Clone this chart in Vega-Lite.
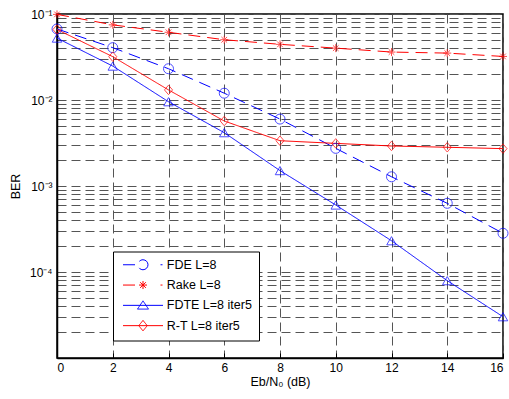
{
  "$schema": "https://vega.github.io/schema/vega-lite/v6.json",
  "width": 446,
  "height": 344,
  "autosize": {"type": "none"},
  "padding": {"left": 57, "top": 14, "right": 6, "bottom": 41},
  "background": "white",
  "config": {
    "font": "Liberation Sans",
    "view": {"stroke": "black", "strokeWidth": 1.5},
    "axis": {
      "domainColor": "black",
      "domainWidth": 1.5,
      "grid": true,
      "gridColor": "#555555",
      "gridDash": [9, 5],
      "gridWidth": 1,
      "labelFont": "Liberation Sans",
      "labelFontSize": 12,
      "labelColor": "black",
      "titleFont": "Liberation Sans",
      "titleFontSize": 12.5,
      "titleFontWeight": "normal",
      "titleColor": "black",
      "tickColor": "black"
    }
  },
  "data": {
    "values": [
      {"series": "FDE L=8", "x": 0, "ber": 0.067},
      {"series": "FDE L=8", "x": 2, "ber": 0.0406},
      {"series": "FDE L=8", "x": 4, "ber": 0.0231},
      {"series": "FDE L=8", "x": 6, "ber": 0.0120},
      {"series": "FDE L=8", "x": 8, "ber": 0.0060},
      {"series": "FDE L=8", "x": 10, "ber": 0.00274},
      {"series": "FDE L=8", "x": 12, "ber": 0.00128},
      {"series": "FDE L=8", "x": 14, "ber": 0.000629},
      {"series": "FDE L=8", "x": 16, "ber": 0.000282},
      {"series": "Rake L=8", "x": 0, "ber": 0.099},
      {"series": "Rake L=8", "x": 2, "ber": 0.0748},
      {"series": "Rake L=8", "x": 4, "ber": 0.0613},
      {"series": "Rake L=8", "x": 6, "ber": 0.0502},
      {"series": "Rake L=8", "x": 8, "ber": 0.0444},
      {"series": "Rake L=8", "x": 10, "ber": 0.0401},
      {"series": "Rake L=8", "x": 12, "ber": 0.0361},
      {"series": "Rake L=8", "x": 14, "ber": 0.0351},
      {"series": "Rake L=8", "x": 16, "ber": 0.0321},
      {"series": "FDTE L=8 iter5", "x": 0, "ber": 0.0525},
      {"series": "FDTE L=8 iter5", "x": 2, "ber": 0.0248},
      {"series": "FDTE L=8 iter5", "x": 4, "ber": 0.00955},
      {"series": "FDTE L=8 iter5", "x": 6, "ber": 0.00417},
      {"series": "FDTE L=8 iter5", "x": 8, "ber": 0.00151},
      {"series": "FDTE L=8 iter5", "x": 10, "ber": 0.000601},
      {"series": "FDTE L=8 iter5", "x": 12, "ber": 0.000231},
      {"series": "FDTE L=8 iter5", "x": 14, "ber": 0.0000793},
      {"series": "FDTE L=8 iter5", "x": 16, "ber": 0.0000302},
      {"series": "R-T L=8 iter5", "x": 0, "ber": 0.066},
      {"series": "R-T L=8 iter5", "x": 2, "ber": 0.0319},
      {"series": "R-T L=8 iter5", "x": 4, "ber": 0.0131},
      {"series": "R-T L=8 iter5", "x": 6, "ber": 0.0057},
      {"series": "R-T L=8 iter5", "x": 8, "ber": 0.00336},
      {"series": "R-T L=8 iter5", "x": 10, "ber": 0.00313},
      {"series": "R-T L=8 iter5", "x": 12, "ber": 0.00292},
      {"series": "R-T L=8 iter5", "x": 14, "ber": 0.00282},
      {"series": "R-T L=8 iter5", "x": 16, "ber": 0.00272}
    ]
  },
  "encoding": {
    "x": {
      "field": "x",
      "type": "quantitative",
      "scale": {"domain": [0, 16], "nice": false, "zero": false},
      "axis": {
        "values": [0, 2, 4, 6, 8, 10, 12, 14, 16],
        "title": "Eb/N₀ (dB)",
        "tickSize": -5,
        "labelPadding": 9,
        "titleBaseline": "alphabetic",
        "titleY": 27
      }
    },
    "y": {
      "field": "ber",
      "type": "quantitative",
      "scale": {"type": "log", "domain": [0.00001, 0.1], "nice": false},
      "axis": {
        "values": [0.00001, 0.00002, 0.00003, 0.00004, 0.00005, 0.00006, 0.00007, 0.00008, 0.00009,
                   0.0001, 0.0002, 0.0003, 0.0004, 0.0005, 0.0006, 0.0007, 0.0008, 0.0009,
                   0.001, 0.002, 0.003, 0.004, 0.005, 0.006, 0.007, 0.008, 0.009,
                   0.01, 0.02, 0.03, 0.04, 0.05, 0.06, 0.07, 0.08, 0.09, 0.1],
        "labelExpr": "datum.value == 0.1 ? '10⁻¹' : datum.value == 0.01 ? '10⁻²' : datum.value == 0.001 ? '10⁻³' : datum.value == 0.0001 ? '10⁻⁴' : ''",
        "labelOverlap": false,
        "labelBound": false,
        "ticks": false,
        "labelPadding": 5,
        "title": "BER",
        "titleBaseline": "alphabetic",
        "titleX": -38
      }
    }
  },
  "layer": [
    {
      "mark": {"type": "line", "strokeWidth": 1},
      "encoding": {
        "color": {
          "field": "series",
          "type": "nominal",
          "scale": {
            "domain": ["FDE L=8", "Rake L=8", "FDTE L=8 iter5", "R-T L=8 iter5"],
            "range": ["#0000ff", "#ff0000", "#0000ff", "#ff0000"]
          },
          "legend": {
            "orient": "none",
            "legendX": 56,
            "legendY": 237.5,
            "title": null,
            "strokeColor": "black",
            "fillColor": "white",
            "padding": 7,
            "labelFont": "Liberation Sans",
            "labelFontSize": 12.5,
            "labelColor": "black",
            "symbolSize": 100,
            "symbolStrokeWidth": 1,
            "symbolFillColor": "transparent",
            "symbolOffset": 16.75,
            "labelOffset": 17.5,
            "rowPadding": 6.3,
            "symbolType": {"expr": "datum.value === 'FDE L=8' ? 'M-4,0L-1,0M1,0C1,0.552 0.552,1 0,1C-0.552,1 -1,0.552 -1,0C-1,-0.552 -0.552,-1 0,-1C0.552,-1 1,-0.552 1,0ZM3.5,0L3.9,0' : datum.value === 'Rake L=8' ? 'M-4,0L-0.8,0M-0.8,0L0.8,0M0,-0.8L0,0.8M-0.57,-0.57L0.57,0.57M-0.57,0.57L0.57,-0.57M3.5,0L3.9,0' : datum.value === 'FDTE L=8 iter5' ? 'M-4,0L4,0M0,-0.9L1.1,0.75L-1.1,0.75Z' : 'M-4,0L4,0M0,-1.05L0.85,0L0,1.05L-0.85,0Z'"}
          }
        },
        "strokeDash": {
          "field": "series",
          "type": "nominal",
          "scale": {
            "domain": ["FDE L=8", "Rake L=8", "FDTE L=8 iter5", "R-T L=8 iter5"],
            "range": [[12, 7], [12, 7], [1, 0], [1, 0]]
          },
          "legend": null
        }
      }
    },
    {
      "transform": [{"filter": "datum.series === 'FDE L=8'"}],
      "mark": {"type": "point", "filled": false, "strokeWidth": 1, "shape": "circle", "size": 100, "color": "#0000ff"}
    },
    {
      "transform": [{"filter": "datum.series === 'Rake L=8'"}],
      "mark": {"type": "point", "filled": false, "strokeWidth": 1, "shape": "M-1,0L1,0M0,-1L0,1M-0.7,-0.7L0.7,0.7M-0.7,0.7L0.7,-0.7", "size": 64, "color": "#ff0000"}
    },
    {
      "transform": [{"filter": "datum.series === 'FDTE L=8 iter5'"}],
      "mark": {"type": "point", "filled": false, "strokeWidth": 1, "shape": "triangle-up", "size": 90, "color": "#0000ff"}
    },
    {
      "transform": [{"filter": "datum.series === 'R-T L=8 iter5'"}],
      "mark": {"type": "point", "filled": false, "strokeWidth": 1, "shape": "M0,-1L0.85,0L0,1L-0.85,0Z", "size": 90, "color": "#ff0000"}
    }
  ]
}
